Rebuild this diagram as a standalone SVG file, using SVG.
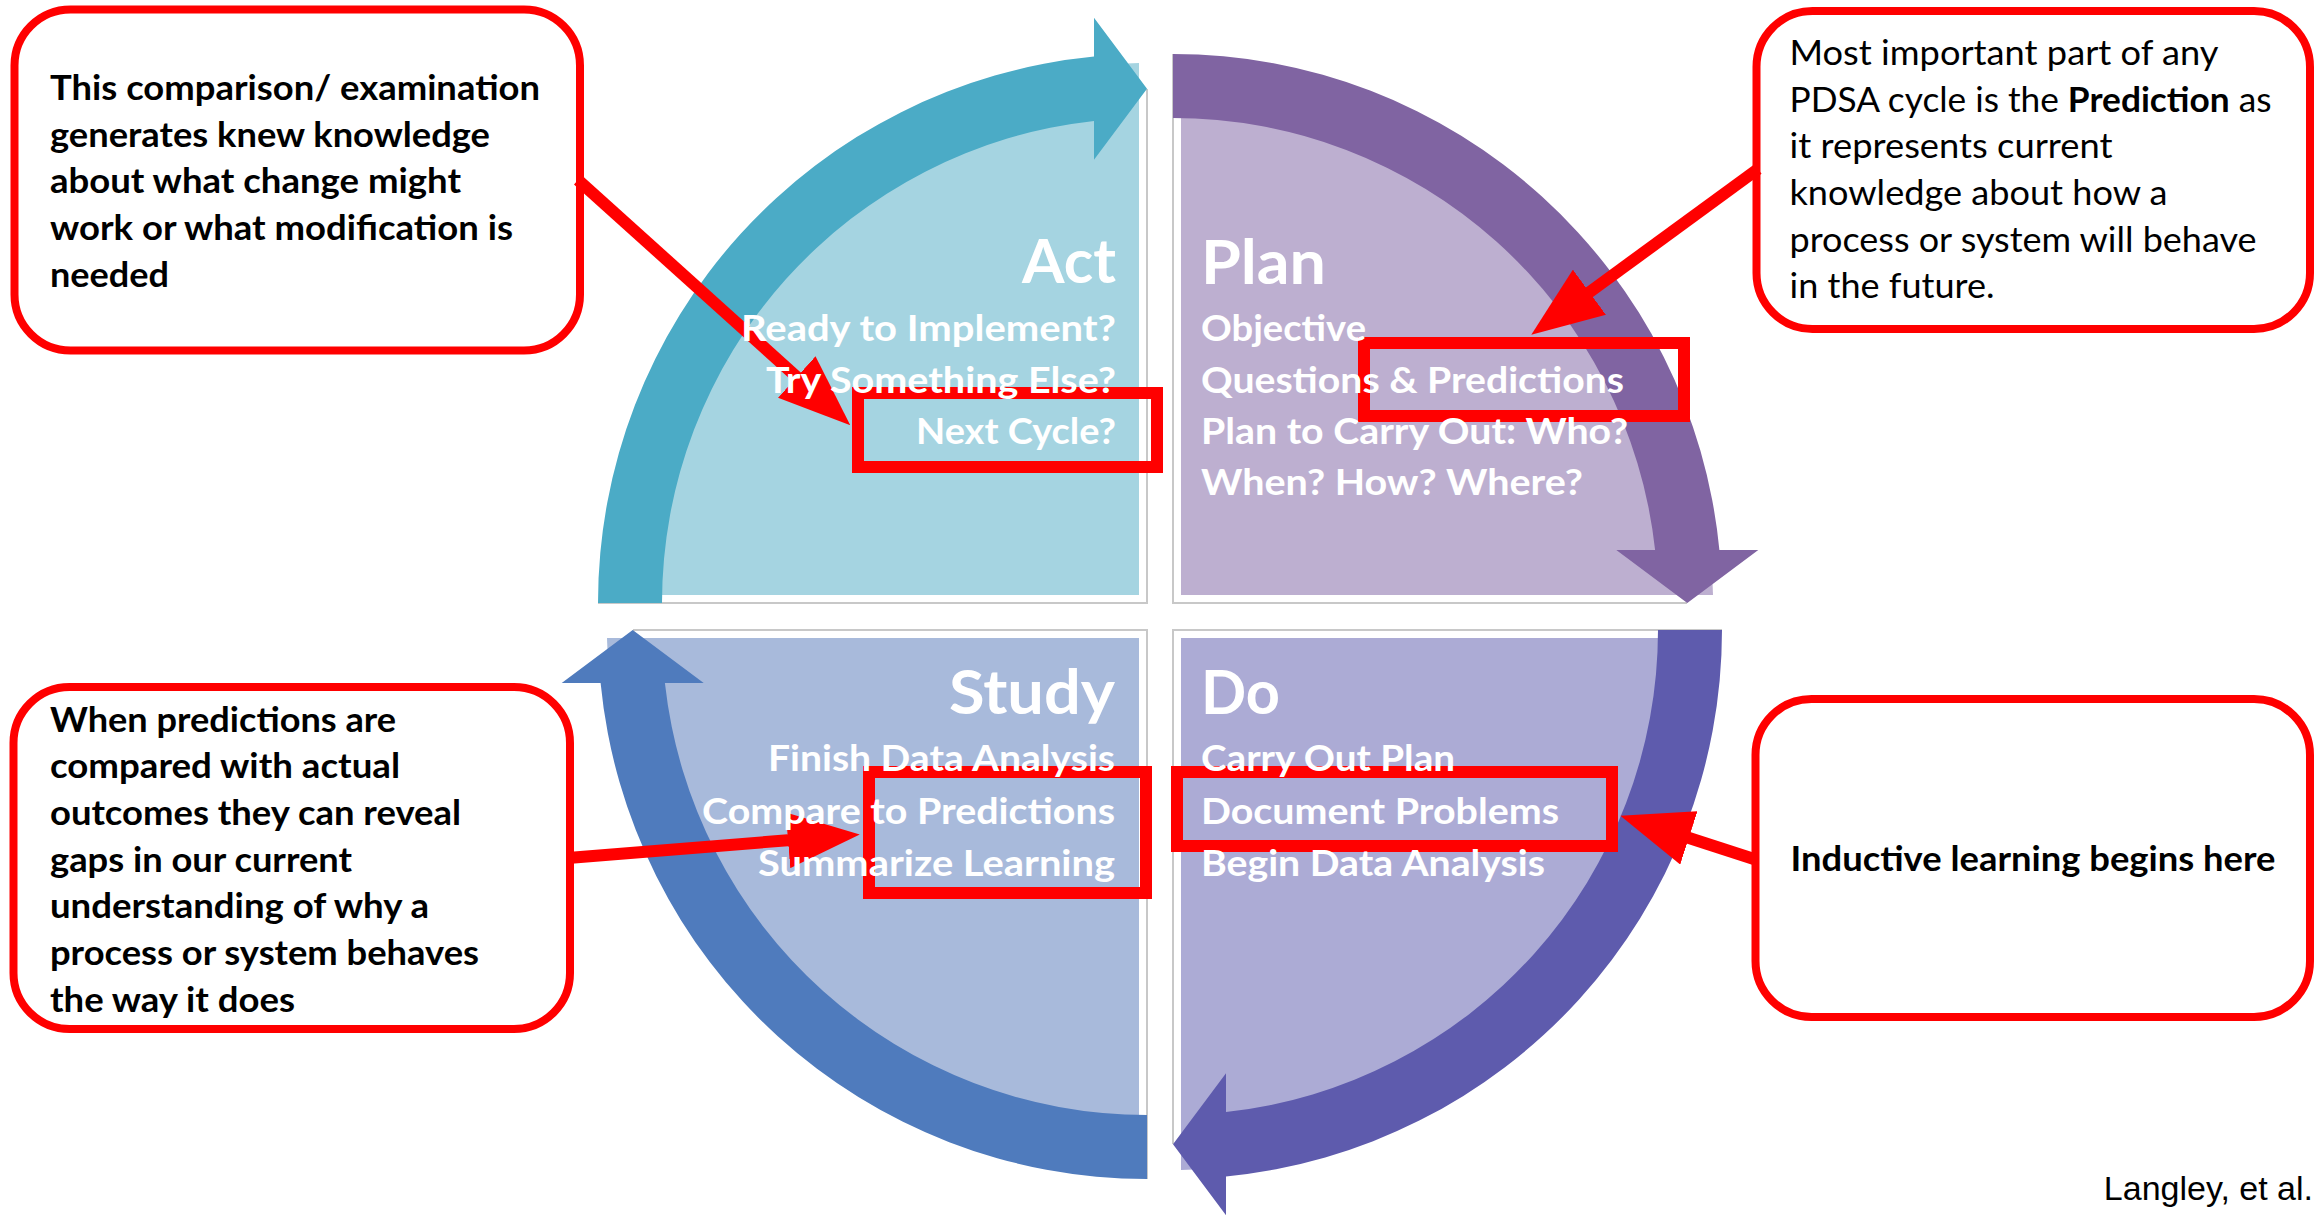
<svg xmlns="http://www.w3.org/2000/svg" xmlns:xlink="http://www.w3.org/1999/xlink" width="2315" height="1217" viewBox="0 0 2315 1217">
  <style>
    .phase { font-family: Lato, "Open Sans", "Liberation Sans", sans-serif; font-weight: 700; fill: #ffffff; }
    .title { font-size: 62px; }
    .item { font-size: 37px; }
    .note { font-family: Lato, "Open Sans", "Liberation Sans", sans-serif; font-size: 34px; fill: #000000; }
    .b { font-weight: 700; }
    .callout { fill: #ffffff; stroke: #ff0000; stroke-width: 8; }
    .hl { fill: none; stroke: #ff0000; stroke-width: 12; }
    .conn { fill: none; stroke: #ff0000; stroke-width: 12; }
    .edge { fill: none; stroke: #c8c8c8; stroke-width: 2; }
    .cite { font-family: "Liberation Sans", Arial, sans-serif; font-size: 34px; fill: #000000; }
  </style>
  <defs>
    <!-- one quarter of the cycle, drawn with its inner corner at the origin (upper-left quadrant) -->
    <path id="qFill" d="M -8 -8 L -540 -8 A 540 540 0 0 1 -8 -540 Z"/>
    <path id="qEdge" d="M -549 0 L 0 0 L 0 -514"/>
    <path id="qBand" d="M -549 0 A 549 549 0 0 1 -53 -546.4 L -53 -585.3 L 0 -514.3 L -53 -443.3 L -53 -482.1 A 485 485 0 0 0 -485 0 Z"/>
    <marker id="redHead" markerUnits="userSpaceOnUse" markerWidth="72" markerHeight="56" viewBox="0 0 72 56" refX="3" refY="28" orient="auto">
      <path d="M 0 0 L 72 28 L 0 56 Z" fill="#ff0000"/>
    </marker>
  </defs>

  <rect width="2315" height="1217" fill="#ffffff"/>

  <!-- PDSA quadrants -->
  <g id="act" transform="translate(1147 603)">
    <use xlink:href="#qFill" fill="#a5d4e1"/>
    <use xlink:href="#qEdge" class="edge"/>
    <use xlink:href="#qBand" fill="#4babc6"/>
  </g>
  <g id="plan" transform="translate(1173 603) rotate(90)">
    <use xlink:href="#qFill" fill="#bdafd0"/>
    <use xlink:href="#qEdge" class="edge"/>
    <use xlink:href="#qBand" fill="#8064a2"/>
  </g>
  <g id="do" transform="translate(1173 630) rotate(180)">
    <use xlink:href="#qFill" fill="#acabd5"/>
    <use xlink:href="#qEdge" class="edge"/>
    <use xlink:href="#qBand" fill="#5e5bad"/>
  </g>
  <g id="study" transform="translate(1147 630) rotate(270)">
    <use xlink:href="#qFill" fill="#a8badb"/>
    <use xlink:href="#qEdge" class="edge"/>
    <use xlink:href="#qBand" fill="#4f7bbd"/>
  </g>

  <!-- highlight frames -->
  <g id="highlights">
    <rect class="hl" x="858" y="393" width="299" height="74"/>
    <rect class="hl" x="1364" y="343" width="320" height="73"/>
    <rect class="hl" x="869" y="772" width="277" height="121"/>
    <rect class="hl" x="1177" y="772" width="435" height="74"/>
  </g>

  <!-- callout boxes -->
  <g id="note-act">
    <rect class="callout" x="14.5" y="9.5" width="565.5" height="341" rx="56"/>
    <g class="note b">
      <text x="50" y="100" textLength="490" lengthAdjust="spacingAndGlyphs">This comparison/ examination</text>
      <text x="50" y="147" textLength="440" lengthAdjust="spacingAndGlyphs">generates knew knowledge</text>
      <text x="50" y="193" textLength="411" lengthAdjust="spacingAndGlyphs">about what change might</text>
      <text x="50" y="240" textLength="463" lengthAdjust="spacingAndGlyphs">work or what modification is</text>
      <text x="50" y="287" textLength="119" lengthAdjust="spacingAndGlyphs">needed</text>
    </g>
  </g>
  <g id="note-plan">
    <rect class="callout" x="1756.5" y="11" width="553.5" height="318" rx="56"/>
    <g class="note">
      <text x="1789.5" y="65" textLength="429" lengthAdjust="spacingAndGlyphs">Most important part of any</text>
      <text x="1789.5" y="112" textLength="482" lengthAdjust="spacingAndGlyphs">PDSA cycle is the <tspan class="b">Prediction</tspan> as</text>
      <text x="1789.5" y="158" textLength="323" lengthAdjust="spacingAndGlyphs">it represents current</text>
      <text x="1789.5" y="205" textLength="378" lengthAdjust="spacingAndGlyphs">knowledge about how a</text>
      <text x="1789.5" y="252" textLength="467" lengthAdjust="spacingAndGlyphs">process or system will behave</text>
      <text x="1789.5" y="298" textLength="205" lengthAdjust="spacingAndGlyphs">in the future.</text>
    </g>
  </g>
  <g id="note-study">
    <rect class="callout" x="13.5" y="687" width="556.5" height="342" rx="56"/>
    <g class="note b">
      <text x="50" y="732" textLength="346" lengthAdjust="spacingAndGlyphs">When predictions are</text>
      <text x="50" y="778" textLength="350" lengthAdjust="spacingAndGlyphs">compared with actual</text>
      <text x="50" y="825" textLength="411" lengthAdjust="spacingAndGlyphs">outcomes they can reveal</text>
      <text x="50" y="872" textLength="302" lengthAdjust="spacingAndGlyphs">gaps in our current</text>
      <text x="50" y="918" textLength="379" lengthAdjust="spacingAndGlyphs">understanding of why a</text>
      <text x="50" y="965" textLength="429" lengthAdjust="spacingAndGlyphs">process or system behaves</text>
      <text x="50" y="1012" textLength="245" lengthAdjust="spacingAndGlyphs">the way it does</text>
    </g>
  </g>
  <g id="note-do">
    <rect class="callout" x="1755.5" y="699" width="554.5" height="318" rx="56"/>
    <text class="note b" x="1790.5" y="871" textLength="485" lengthAdjust="spacingAndGlyphs">Inductive learning begins here</text>
  </g>

  <!-- connectors from the notes to the highlighted items -->
  <g id="connectors">
    <line class="conn" x1="578" y1="180" x2="799" y2="379" marker-end="url(#redHead)"/>
    <line class="conn" x1="1758" y1="169" x2="1587" y2="294" marker-end="url(#redHead)"/>
    <line class="conn" x1="568" y1="858" x2="791" y2="840" marker-end="url(#redHead)"/>
    <line class="conn" x1="1757" y1="860" x2="1686" y2="837" marker-end="url(#redHead)"/>
  </g>

  <!-- quadrant labels, drawn over the annotations -->
  <g id="act-text" class="phase" text-anchor="end">
    <text class="title" x="1116" y="283" textLength="94" lengthAdjust="spacingAndGlyphs">Act</text>
    <text class="item" x="1116" y="341" textLength="375" lengthAdjust="spacingAndGlyphs">Ready to Implement?</text>
    <text class="item" x="1116" y="393" textLength="350" lengthAdjust="spacingAndGlyphs">Try Something Else?</text>
    <text class="item" x="1116" y="444" textLength="200" lengthAdjust="spacingAndGlyphs">Next Cycle?</text>
  </g>
  <g id="plan-text" class="phase">
    <text class="title" x="1201" y="284" textLength="125" lengthAdjust="spacingAndGlyphs">Plan</text>
    <text class="item" x="1201" y="341" textLength="165" lengthAdjust="spacingAndGlyphs">Objective</text>
    <text class="item" x="1201" y="393" textLength="423" lengthAdjust="spacingAndGlyphs">Questions &amp; Predictions</text>
    <text class="item" x="1201" y="444" textLength="427" lengthAdjust="spacingAndGlyphs">Plan to Carry Out: Who?</text>
    <text class="item" x="1201" y="495" textLength="382" lengthAdjust="spacingAndGlyphs">When? How? Where?</text>
  </g>
  <g id="study-text" class="phase" text-anchor="end">
    <text class="title" x="1115" y="714" textLength="166" lengthAdjust="spacingAndGlyphs">Study</text>
    <text class="item" x="1115" y="771" textLength="347" lengthAdjust="spacingAndGlyphs">Finish Data Analysis</text>
    <text class="item" x="1115" y="824" textLength="413" lengthAdjust="spacingAndGlyphs">Compare to Predictions</text>
    <text class="item" x="1115" y="876" textLength="357" lengthAdjust="spacingAndGlyphs">Summarize Learning</text>
  </g>
  <g id="do-text" class="phase">
    <text class="title" x="1201" y="714" textLength="79" lengthAdjust="spacingAndGlyphs">Do</text>
    <text class="item" x="1201" y="771" textLength="254" lengthAdjust="spacingAndGlyphs">Carry Out Plan</text>
    <text class="item" x="1201" y="824" textLength="358" lengthAdjust="spacingAndGlyphs">Document Problems</text>
    <text class="item" x="1201" y="876" textLength="344" lengthAdjust="spacingAndGlyphs">Begin Data Analysis</text>
  </g>

  <text class="cite" x="2313" y="1200" text-anchor="end">Langley, et al.</text>
</svg>
